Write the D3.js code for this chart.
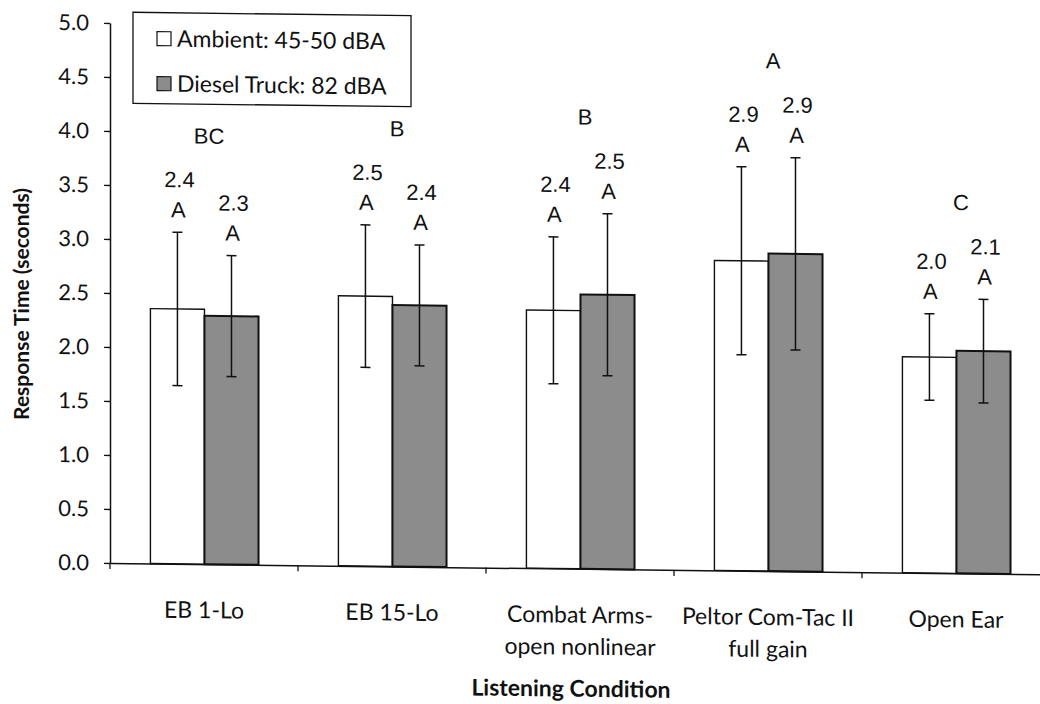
<!DOCTYPE html>
<html><head><meta charset="utf-8">
<script src="https://cdn.jsdelivr.net/npm/d3@7"></script>
<style>body{margin:0;background:#fff} svg{display:block}</style>
</head><body><svg id="c" width="1040" height="704"></svg>
<script>
// ---- data ----
const categories = ["EB 1-Lo", "EB 15-Lo", "Combat Arms-\nopen nonlinear", "Peltor Com-Tac II\nfull gain", "Open Ear"];
const seriesNames = ["Ambient: 45-50 dBA", "Diesel Truck: 82 dBA"];
const ambientMeans = [2.36, 2.50, 2.39, 2.87, 2.00];
const dieselMeans  = [2.30, 2.42, 2.54, 2.94, 2.06];
const ambientSD    = [0.71, 0.66, 0.68, 0.87, 0.40];
const dieselSD     = [0.56, 0.56, 0.75, 0.89, 0.48];
const ambientLabels = ["2.4", "2.5", "2.4", "2.9", "2.0"];
const dieselLabels  = ["2.3", "2.4", "2.5", "2.9", "2.1"];
const ambientLetters = ["A", "A", "A", "A", "A"];
const dieselLetters  = ["A", "A", "A", "A", "A"];
const groupLetters = ["BC", "B", "B", "A", "C"];
const yTicks = [0, 0.5, 1, 1.5, 2, 2.5, 3, 3.5, 4, 4.5, 5];
const yTitle = "Response Time (seconds)";
const xTitle = "Listening Condition";

// ---- layout ----
const svg = d3.select("#c");
const W = 940, H = 540;
const calibri = "Lato, 'Open Sans', sans-serif";
const arial = "'Liberation Sans', Arial, sans-serif";
const fills = ["#ffffff", "#8c8c8c"];
const strokeW = [1.4, 2];

const rows = categories.map((c, i) => ({
  cat: c, i,
  vals: [
    {s: 0, mean: ambientMeans[i], sd: ambientSD[i], label: ambientLabels[i], letter: ambientLetters[i]},
    {s: 1, mean: dieselMeans[i], sd: dieselSD[i], label: dieselLabels[i], letter: dieselLetters[i]}
  ]
}));

const x0 = d3.scaleBand().domain(categories).range([0, W]);
const x1 = d3.scaleBand().domain([0, 1]).range([x0.bandwidth() * 0.215, x0.bandwidth() * 0.79]);
const y = d3.scaleLinear().domain([0, 5]).range([H, 0]);

const g = svg.append("g").attr("transform", "translate(110,23) skewY(0.7)");

// y axis
const yAxis = g.append("g").call(d3.axisLeft(y).tickValues(yTicks).tickFormat(d3.format(".1f")).tickSize(6).tickSizeOuter(0).tickPadding(15));
yAxis.select(".domain").attr("stroke", "#111").attr("stroke-width", 1.5);
yAxis.selectAll(".tick line").attr("stroke", "#111").attr("stroke-width", 1.3);
yAxis.selectAll("text").attr("font-family", calibri).attr("font-size", 22).attr("fill", "#111");

// bars
const grp = g.selectAll(".grp").data(rows).join("g").attr("class", "grp")
  .attr("transform", d => `translate(${x0(d.cat)},0)`);
grp.selectAll("rect").data(d => d.vals).join("rect")
  .attr("x", d => x1(d.s)).attr("width", x1.bandwidth())
  .attr("y", d => y(d.mean)).attr("height", d => y(0) - y(d.mean))
  .attr("fill", d => fills[d.s]).attr("stroke", "#111").attr("stroke-width", d => strokeW[d.s]);

// error bars
const eb = grp.selectAll(".eb").data(d => d.vals).join("g").attr("class", "eb")
  .attr("stroke", "#111").attr("stroke-width", 1.5);
const cx = d => x1(d.s) + x1.bandwidth() / 2;
eb.append("line").attr("x1", cx).attr("x2", cx).attr("y1", d => y(d.mean + d.sd)).attr("y2", d => y(d.mean - d.sd));
eb.append("line").attr("x1", d => cx(d) - 5).attr("x2", d => cx(d) + 5).attr("y1", d => y(d.mean + d.sd)).attr("y2", d => y(d.mean + d.sd));
eb.append("line").attr("x1", d => cx(d) - 5).attr("x2", d => cx(d) + 5).attr("y1", d => y(d.mean - d.sd)).attr("y2", d => y(d.mean - d.sd));

// value labels and letters
grp.selectAll(".vl").data(d => d.vals).join("text").attr("class", "vl")
  .attr("x", d => cx(d) + 2).attr("y", d => y(d.mean + d.sd) - 45)
  .attr("text-anchor", "middle").attr("font-family", arial).attr("font-size", 22).attr("fill", "#111")
  .text(d => d.label);
grp.selectAll(".lt").data(d => d.vals).join("text").attr("class", "lt")
  .attr("x", d => cx(d) + 1).attr("y", d => y(d.mean + d.sd) - 15)
  .attr("text-anchor", "middle").attr("font-family", arial).attr("font-size", 22).attr("fill", "#111")
  .text(d => d.letter);
grp.append("text")
  .attr("x", x0.bandwidth() / 2 + 5)
  .attr("y", d => d3.min(d.vals, v => y(v.mean + v.sd)) - 89)
  .attr("text-anchor", "middle").attr("font-family", arial).attr("font-size", 22).attr("fill", "#111")
  .text(d => groupLetters[d.i]);

// x axis
const xAxis = g.append("g").attr("transform", `translate(0,${H})`)
  .call(d3.axisBottom(x0).tickSize(0).tickFormat(""));
xAxis.select(".domain").attr("stroke", "#111").attr("stroke-width", 1.5);
const bounds = d3.range(categories.length + 1).map(i => i * x0.step());
xAxis.selectAll(".bt").data(bounds).join("line").attr("class", "bt")
  .attr("x1", d => d).attr("x2", d => d).attr("y1", 0).attr("y2", 6)
  .attr("stroke", "#111").attr("stroke-width", 1.3);
const xl = xAxis.selectAll(".xl").data(categories).join("text").attr("class", "xl")
  .attr("x", d => x0(d) + x0.bandwidth() / 2).attr("y", 54)
  .attr("text-anchor", "middle").attr("font-family", calibri).attr("font-size", 23).attr("fill", "#111");
xl.selectAll("tspan").data(d => d.split("\n")).join("tspan")
  .attr("x", function() { return this.parentNode.getAttribute("x"); })
  .attr("dy", (d, i) => i === 0 ? 0 : 32).text(d => d);

// axis titles
g.append("text").attr("x", W / 2 - 9).attr("y", H + 128).attr("text-anchor", "middle")
  .attr("font-family", calibri).attr("font-weight", "bold").attr("font-size", 23).attr("fill", "#111").text(xTitle);
svg.append("text").attr("transform", "translate(29,304) rotate(-90)").attr("text-anchor", "middle")
  .attr("font-family", calibri).attr("font-weight", "bold").attr("font-size", 21).attr("fill", "#111").text(yTitle);

// legend
const lg = g.append("g").attr("transform", "translate(23,-11)");
lg.append("rect").attr("width", 278).attr("height", 91).attr("fill", "#fff").attr("stroke", "#111").attr("stroke-width", 1.3);
const li = lg.selectAll(".li").data(seriesNames).join("g").attr("class", "li")
  .attr("transform", (d, i) => `translate(24,${21 + i * 45})`);
li.append("rect").attr("width", 14).attr("height", 14).attr("y", -2)
  .attr("fill", (d, i) => fills[i]).attr("stroke", "#111").attr("stroke-width", 1.2);
li.append("text").attr("x", 20).attr("y", 13).attr("font-family", calibri).attr("font-size", 23).attr("fill", "#111").text(d => d);
</script></body></html>
